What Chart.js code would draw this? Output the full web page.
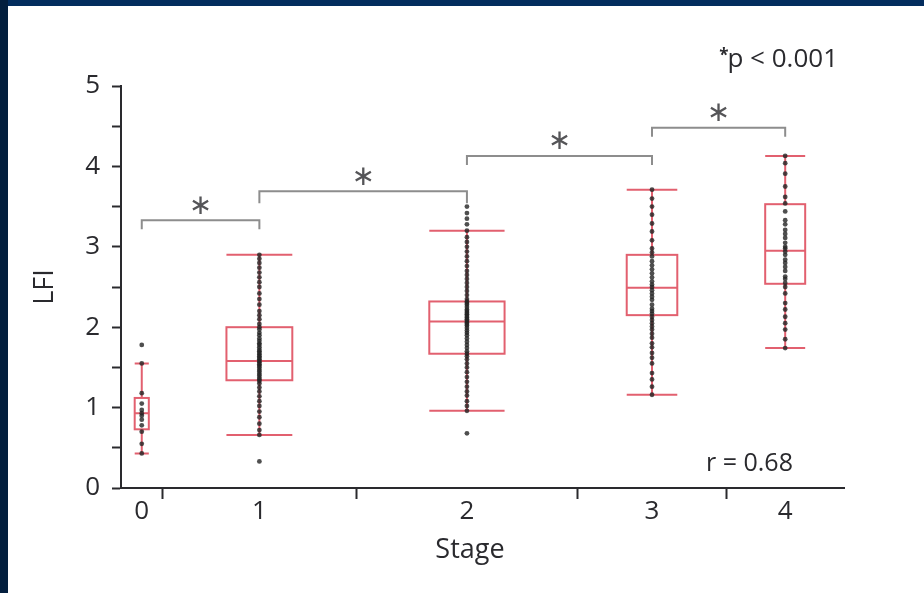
<!DOCTYPE html>
<html>
<head>
<meta charset="utf-8">
<script src="https://cdn.jsdelivr.net/npm/chart.js@4.4.1/dist/chart.umd.min.js"></script>
<style>
  html, body { margin: 0; padding: 0; background: #fff; }
  #wrap { position: relative; width: 924px; height: 593px; overflow: hidden; }
  #chart { position: absolute; left: 0; top: 0; }
  .band-top { position: absolute; left: 0; top: 0; width: 924px; height: 6px; background: #032d5e; }
  .band-left { position: absolute; left: 0; top: 0; width: 8px; height: 593px; background: #031f3e; }
</style>
</head>
<body>
<div id="wrap">
  <canvas id="chart" width="924" height="593"></canvas>
  <div class="band-top"></div>
  <div class="band-left"></div>
</div>
<script>
// Stage groups
const stages = ['0', '1', '2', '3', '4'];
// patients per stage (the x axis is proportional to these)
const counts = [12, 56, 64, 43, 34];

// box plot summary per stage
const whiskerLow = [0.43, 0.66, 0.96, 1.16, 1.74];
const q1 = [0.73, 1.34, 1.67, 2.15, 2.54];
const median = [0.93, 1.58, 2.07, 2.49, 2.95];
const q3 = [1.12, 2.0, 2.32, 2.9, 3.53];
const whiskerHigh = [1.55, 2.9, 3.2, 3.71, 4.13];

// individual LFI values
const lfi0 = [0.43, 0.55, 0.7, 0.78, 0.85, 0.9, 0.93, 0.97, 1.05, 1.18, 1.55, 1.78];
const lfi1 = [0.33, 0.66, 0.72, 0.8, 0.88, 0.95, 1.02, 1.08, 1.14, 1.2, 1.25, 1.3, 1.33, 1.35, 1.37,
  1.4, 1.42, 1.45, 1.47, 1.5, 1.52, 1.54, 1.56, 1.58, 1.6, 1.62, 1.64, 1.66, 1.68, 1.7, 1.72, 1.75,
  1.78, 1.8, 1.83, 1.86, 1.9, 1.93, 1.97, 2.0, 2.04, 2.1, 2.15, 2.2, 2.28, 2.35, 2.42, 2.5, 2.56,
  2.62, 2.68, 2.74, 2.8, 2.85, 2.9];
const lfi2 = [0.68, 0.96, 1.02, 1.08, 1.15, 1.2, 1.26, 1.32, 1.38, 1.44, 1.5, 1.55, 1.6, 1.64, 1.67,
  1.7, 1.74, 1.78, 1.82, 1.86, 1.9, 1.93, 1.96, 1.99, 2.02, 2.04, 2.06, 2.08, 2.1, 2.12, 2.14, 2.16,
  2.18, 2.2, 2.22, 2.25, 2.28, 2.3, 2.32, 2.35, 2.4, 2.45, 2.5, 2.55, 2.6, 2.65, 2.7, 2.76, 2.82,
  2.88, 2.94, 3.0, 3.06, 3.12, 3.2, 3.28, 3.35, 3.42, 3.5];
const lfi3 = [1.16, 1.26, 1.35, 1.43, 1.55, 1.62, 1.68, 1.75, 1.8, 1.87, 1.92, 1.97, 2.01, 2.05, 2.09,
  2.13, 2.17, 2.2, 2.23, 2.28, 2.34, 2.38, 2.42, 2.46, 2.5, 2.53, 2.57, 2.62, 2.67, 2.72, 2.77, 2.82,
  2.88, 2.93, 2.98, 3.08, 3.19, 3.29, 3.4, 3.5, 3.6, 3.71];
const lfi4 = [1.74, 1.85, 1.97, 2.05, 2.13, 2.22, 2.3, 2.42, 2.5, 2.55, 2.6, 2.63, 2.7, 2.75, 2.8,
  2.84, 2.9, 2.94, 2.98, 3.0, 3.05, 3.11, 3.16, 3.21, 3.28, 3.33, 3.44, 3.54, 3.62, 3.75, 3.91,
  4.04, 4.13];
const lfiByStage = [lfi0, lfi1, lfi2, lfi3, lfi4];

const yTicks = [0, 0.5, 1, 1.5, 2, 2.5, 3, 3.5, 4, 4.5, 5];

// significance brackets: [from stage, to stage, LFI level]
const comparisons = [[0, 1, 3.33], [1, 2, 3.69], [2, 3, 4.13], [3, 4, 4.48]];
const pText = 'p < 0.001';
const rText = 'r = 0.68';
const xTitle = 'Stage';

// x positions on the cumulative-count axis
const bounds = [];
const centers = [];
let acc = 0;
counts.forEach(n => {
    centers.push(acc + n / 2);
    acc += n;
    bounds.push(acc);
});
const total = acc;
const innerBounds = bounds.slice(0, -1);

const INK = '#2a2a2e';
const BOX = '#e2606f';
const FONT = "'Open Sans', 'Noto Sans', sans-serif";

const points = [];
lfiByStage.forEach((vals, i) => vals.forEach(v => points.push({ x: centers[i], y: v })));

// red boxes and whiskers, drawn under the dots
const boxPlugin = {
    id: 'boxes',
    beforeDatasetsDraw(chart) {
        const { ctx, scales: { x, y } } = chart;
        ctx.save();
        ctx.strokeStyle = BOX;
        ctx.lineWidth = 2;
        counts.forEach((n, i) => {
            const half = n * 0.17;
            const l = x.getPixelForValue(centers[i] - half);
            const r = x.getPixelForValue(centers[i] + half);
            const c = x.getPixelForValue(centers[i]);
            const yLo = y.getPixelForValue(whiskerLow[i]);
            const yHi = y.getPixelForValue(whiskerHigh[i]);
            const y1 = y.getPixelForValue(q1[i]);
            const y3 = y.getPixelForValue(q3[i]);
            const ym = y.getPixelForValue(median[i]);
            ctx.beginPath();
            ctx.moveTo(c, yHi); ctx.lineTo(c, y3);
            ctx.moveTo(c, y1); ctx.lineTo(c, yLo);
            ctx.moveTo(l, yHi); ctx.lineTo(r, yHi);
            ctx.moveTo(l, yLo); ctx.lineTo(r, yLo);
            ctx.moveTo(l, ym); ctx.lineTo(r, ym);
            ctx.stroke();
            ctx.strokeRect(l, y3, r - l, y1 - y3);
        });
        ctx.restore();
    },
    afterDraw(chart) {
        const { ctx, scales: { x, y } } = chart;
        ctx.save();
        // brackets + stars
        ctx.strokeStyle = '#8d8d8d';
        ctx.lineWidth = 2;
        ctx.fillStyle = '#555558';
        ctx.textAlign = 'center';
        ctx.textBaseline = 'middle';
        comparisons.forEach(([a, b, lvl], k) => {
            const xa = x.getPixelForValue(centers[a]);
            const xb = x.getPixelForValue(centers[b]);
            const yy = y.getPixelForValue(lvl);
            const drop = k === 1 ? 12 : 9;
            ctx.beginPath();
            ctx.moveTo(xa, yy + drop);
            ctx.lineTo(xa, yy);
            ctx.lineTo(xb, yy);
            ctx.lineTo(xb, yy + drop);
            ctx.stroke();
            ctx.font = '28px DejaVu Sans';
            ctx.fillText('\u2217', (xa + xb) / 2, yy - 14);
        });
        // x axis title, a little left of the axis middle as in the original
        ctx.fillStyle = INK;
        ctx.font = '27px ' + FONT;
        ctx.fillText(xTitle, 470, 550);
        // p value note
        ctx.textAlign = 'right';
        ctx.textBaseline = 'alphabetic';
        ctx.font = '26px ' + FONT;
        ctx.fillText(pText, 838, 67);
        const w = ctx.measureText(pText).width;
        ctx.font = 'bold 17px ' + FONT;
        ctx.fillText('*', 838 - w + 1, 61);
        // correlation
        ctx.textAlign = 'left';
        ctx.font = '25px ' + FONT;
        ctx.fillText(rText, 706, 471);
        ctx.restore();
    }
};

const ctx = document.getElementById('chart').getContext('2d');
new Chart(ctx, {
    type: 'scatter',
    data: {
        datasets: [{
            data: points,
            pointRadius: 2.4,
            pointBackgroundColor: 'rgba(35, 35, 35, 0.8)',
            pointBorderWidth: 0
        }]
    },
    options: {
        responsive: false,
        animation: false,
        layout: { padding: { top: 86, right: 80, left: 0, bottom: 0 } },
        plugins: { legend: { display: false }, tooltip: { enabled: false } },
        scales: {
            x: {
                type: 'linear',
                min: 0,
                max: total,
                afterBuildTicks: s => {
                    s.ticks = centers.concat(innerBounds).sort((a, b) => a - b).map(v => ({ value: v }));
                },
                afterFit: s => { s.height = 105; },
                ticks: {
                    autoSkip: false,
                    maxRotation: 0,
                    padding: -3,
                    color: INK,
                    font: { family: FONT, size: 26 },
                    callback: v => {
                        const i = centers.indexOf(v);
                        return i >= 0 ? stages[i] : '';
                    }
                },
                grid: {
                    drawOnChartArea: false,
                    tickLength: 11,
                    tickWidth: 2,
                    tickColor: c => innerBounds.includes(c.tick && c.tick.value) ? INK : 'rgba(0,0,0,0)'
                },
                border: { color: INK, width: 2 }
            },
            y: {
                min: 0,
                max: 5,
                afterBuildTicks: s => { s.ticks = yTicks.map(v => ({ value: v })); },
                afterFit: s => { s.width = 121; },
                ticks: {
                    padding: 12,
                    color: INK,
                    font: { family: FONT, size: 26 },
                    callback: v => Number.isInteger(v) ? String(v) : ''
                },
                grid: {
                    drawOnChartArea: false,
                    tickLength: 9,
                    tickWidth: 2,
                    tickColor: INK
                },
                border: { color: INK, width: 2 },
                title: {
                    display: true,
                    text: 'LFI',
                    color: INK,
                    font: { family: FONT, size: 27 },
                    padding: { top: 29 }
                }
            }
        }
    },
    plugins: [boxPlugin]
});
</script>
</body>
</html>
